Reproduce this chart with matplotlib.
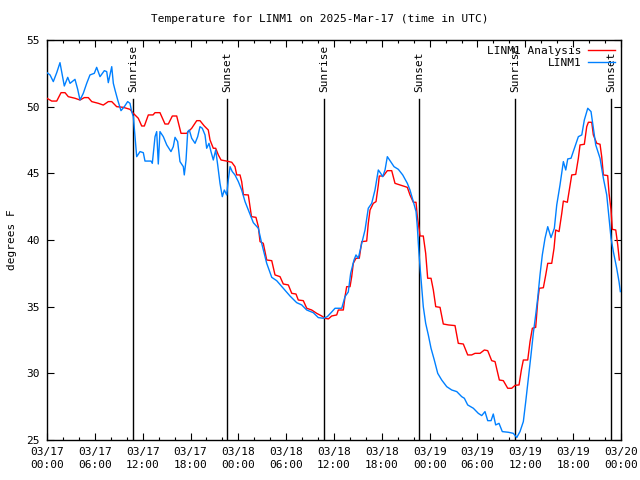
import matplotlib
matplotlib.use("Agg")
import matplotlib.pyplot as plt
from matplotlib.ticker import MultipleLocator

# ---------------- data ----------------
title = "Temperature for LINM1 on 2025-Mar-17 (time in UTC)"

# hours since 2025-03-17 00:00 UTC
analysis_hours = [0.00, 0.59, 1.22, 1.76, 2.26, 2.67, 3.51, 4.14, 4.68, 5.18, 5.61, 6.44, 7.06, 7.69,
                  8.12, 8.74, 9.57, 10.41, 10.83, 11.45, 11.88, 12.21, 12.71, 13.30, 13.55, 14.17,
                  14.80, 15.22, 15.72, 16.27, 16.81, 17.52, 18.15, 18.78, 19.19, 19.73, 20.23, 20.45,
                  20.86, 21.16, 21.49, 21.83, 22.54, 23.17, 23.58, 23.80, 24.21, 24.42, 24.64, 25.25,
                  25.65, 26.21, 26.51, 26.72, 27.13, 27.56, 28.19, 28.60, 29.23, 29.64, 30.27, 30.70,
                  31.23, 31.52, 32.15, 32.58, 33.20, 33.83, 34.46, 34.87, 35.29, 35.71, 36.34, 36.54,
                  37.17, 37.38, 37.59, 38.01, 38.22, 38.42, 38.76, 39.17, 39.48, 40.10, 40.30, 40.52,
                  40.93, 41.27, 41.56, 41.68, 42.19, 42.69, 43.24, 43.65, 44.28, 45.20, 45.53, 45.95,
                  46.29, 46.45, 46.70, 46.79, 47.20, 47.50, 47.75, 48.17, 48.46, 48.76, 49.30, 49.71,
                  50.34, 51.18, 51.59, 52.22, 52.77, 53.27, 53.69, 54.32, 54.86, 55.28, 55.78, 56.20,
                  56.74, 57.24, 57.79, 58.29, 58.71, 59.21, 59.50, 59.75, 60.30, 60.59, 60.88, 61.30,
                  61.55, 61.75, 62.26, 62.56, 62.81, 63.31, 63.60, 63.81, 64.23, 64.57, 64.77, 65.27,
                  65.61, 65.82, 66.32, 66.65, 66.86, 67.40, 67.70, 67.91, 68.33, 68.53, 68.96, 69.37,
                  69.58, 69.79, 70.33, 70.50, 70.75, 70.91, 71.34, 71.59, 71.79]
analysis_temp = [50.63, 50.42, 50.42, 51.05, 51.05, 50.75, 50.63, 50.50, 50.68, 50.68, 50.38, 50.25, 50.12, 50.38,
                 50.38, 50.00, 49.95, 49.80, 49.50, 49.13, 48.55, 48.55, 49.38, 49.38, 49.55, 49.55,
                 48.70, 48.70, 49.30, 49.30, 48.00, 48.00, 48.38, 48.95, 48.95, 48.55, 48.25, 47.50,
                 46.88, 46.88, 46.38, 46.00, 45.92, 45.83, 45.50, 44.88, 44.88, 44.38, 43.40, 43.38,
                 41.75, 41.70, 41.00, 39.88, 39.75, 38.50, 38.45, 37.38, 37.25, 36.70, 36.63, 36.00,
                 35.95, 35.50, 35.45, 34.88, 34.75, 34.50, 34.30, 34.13, 34.08, 34.30, 34.38, 34.75,
                 34.75, 35.75, 36.50, 36.50, 37.25, 38.25, 38.63, 38.63, 39.88, 39.92, 41.25, 42.25,
                 42.75, 42.88, 44.13, 44.80, 44.80, 45.20, 45.20, 44.25, 44.13, 43.95, 43.38, 42.83,
                 42.83, 41.75, 40.75, 40.30, 40.30, 39.00, 37.13, 37.13, 36.25, 35.00, 34.95, 33.70,
                 33.63, 33.58, 32.25, 32.20, 31.38, 31.38, 31.50, 31.50, 31.75, 31.70, 30.95, 30.88,
                 29.50, 29.45, 28.88, 28.88, 29.10, 29.13, 30.25, 31.00, 31.00, 32.38, 33.38, 33.45,
                 35.38, 36.38, 36.42, 37.38, 38.25, 38.25, 39.38, 40.75, 40.63, 42.00, 42.92, 42.83,
                 44.13, 44.88, 44.92, 46.13, 47.13, 47.18, 48.50, 48.83, 48.83, 47.88, 47.25, 47.18,
                 46.25, 44.88, 44.83, 43.50, 42.25, 40.80, 40.75, 39.63, 38.50]

obs_hours = [0.00, 0.38, 0.79, 1.22, 1.63, 1.92, 2.17, 2.60, 2.89, 3.51, 3.85, 4.14, 4.55, 4.98, 5.39,
             5.93, 6.23, 6.65, 7.19, 7.49, 7.69, 8.12, 8.32, 8.53, 8.87, 9.28, 9.70, 10.12, 10.41,
             10.62, 10.83, 11.04, 11.25, 11.67, 12.08, 12.29, 13.05, 13.21, 13.55, 13.76, 13.96,
             14.17, 14.59, 15.02, 15.55, 15.84, 16.06, 16.39, 16.68, 17.10, 17.22, 17.44, 17.65,
             17.85, 18.15, 18.57, 18.90, 19.19, 19.48, 19.82, 20.03, 20.32, 20.57, 20.86, 21.16,
             21.41, 21.70, 21.99, 22.24, 22.54, 22.74, 22.96, 23.24, 23.58, 24.00, 24.42, 24.84,
             25.34, 25.88, 26.51, 26.93, 27.56, 28.19, 28.81, 29.64, 30.48, 31.32, 31.95, 32.58,
             33.40, 34.03, 34.66, 35.16, 35.71, 36.13, 36.97, 37.38, 37.79, 38.09, 38.51, 38.76,
             39.05, 39.48, 39.89, 40.30, 40.73, 41.14, 41.56, 41.86, 42.11, 42.40, 42.69, 43.03,
             43.53, 44.07, 44.62, 45.20, 45.53, 45.95, 46.29, 46.45, 46.63, 46.79, 47.00, 47.20,
             47.50, 47.83, 48.17, 48.58, 49.01, 49.51, 50.14, 50.77, 51.40, 52.02, 52.35, 52.77,
             53.48, 54.10, 54.53, 54.94, 55.28, 55.70, 55.98, 56.28, 56.70, 57.11, 57.87, 58.49,
             58.92, 59.33, 59.75, 60.05, 60.38, 60.71, 61.00, 61.30, 61.55, 61.84, 62.13, 62.47,
             62.81, 63.22, 63.64, 63.94, 64.35, 64.77, 65.07, 65.32, 65.73, 66.15, 66.65, 67.08,
             67.40, 67.83, 68.24, 68.53, 68.83, 69.37, 69.79, 70.21, 70.50, 70.75, 71.04, 71.46,
             71.75, 71.92]
obs_temp = [52.55, 52.38, 51.88, 52.55, 53.30, 52.38, 51.55, 52.20, 51.75, 52.05, 51.30, 50.50, 51.00, 51.75, 52.38,
            52.50, 52.95, 52.25, 52.70, 52.63, 51.80, 53.00, 51.75, 51.25, 50.50, 49.70, 50.00, 50.38, 50.25,
            49.63, 49.25, 47.75, 46.25, 46.63, 46.55, 45.92, 45.92, 45.75, 47.75, 48.13, 45.70,
            48.13, 47.75, 47.13, 46.63, 47.00, 47.70, 47.38, 45.88, 45.50, 44.88, 46.00, 48.13,
            48.25, 47.63, 47.25, 47.75, 48.50, 48.38, 47.88, 46.88, 47.25, 46.63, 46.00, 46.75,
            45.63, 44.25, 43.25, 43.75, 43.38, 44.50, 45.50, 45.13, 44.88, 44.38, 43.75, 42.88,
            42.13, 41.30, 40.88, 39.75, 38.25, 37.20, 36.95, 36.38, 35.80, 35.30, 35.13, 34.75,
            34.55, 34.18, 34.13, 34.25, 34.60, 34.88, 34.88, 35.75, 36.10, 37.50, 38.50, 38.88,
            38.63, 39.75, 40.75, 42.38, 42.75, 43.75, 45.25, 45.00, 44.75, 45.25, 46.25, 45.95,
            45.50, 45.30, 44.88, 44.25, 43.75, 42.88, 42.13, 41.00, 39.25, 38.00, 36.50, 35.00,
            33.75, 32.88, 31.88, 31.00, 30.00, 29.50, 29.00, 28.75, 28.63, 28.25, 28.13, 27.63,
            27.38, 27.00, 26.83, 27.13, 26.45, 26.45, 26.95, 26.13, 26.25, 25.63, 25.58, 25.50,
            25.18, 25.63, 26.38, 27.88, 29.63, 31.38, 33.00, 34.38, 35.63, 37.38, 38.88, 40.13,
            41.00, 40.18, 40.88, 42.63, 44.13, 45.88, 45.25, 46.08, 46.13, 46.88, 47.75, 47.88,
            49.00, 49.88, 49.63, 48.38, 47.13, 46.13, 44.63, 43.38, 41.63, 40.13, 39.13, 37.88,
            36.88, 36.13]

sunrise_hours = [10.79, 34.75, 58.70]
sunset_hours = [22.58, 46.66, 70.75]

tick_hours = [0, 6, 12, 18, 24, 30, 36, 42, 48, 54, 60, 66, 72]
tick_dates = ["03/17", "03/17", "03/17", "03/17", "03/18", "03/18", "03/18", "03/18",
              "03/19", "03/19", "03/19", "03/19", "03/20"]
tick_times = ["00:00", "06:00", "12:00", "18:00", "00:00", "06:00", "12:00", "18:00",
              "00:00", "06:00", "12:00", "18:00", "00:00"]

# ---------------- plot ----------------
FONT = "DejaVu Sans Mono"
FS = 8
plt.rcParams["font.family"] = [FONT, "DejaVu Sans"]
plt.rcParams["font.size"] = FS

fig = plt.figure(figsize=(6.4, 4.8), dpi=100)
ax = fig.add_axes([47 / 640, 1 - 440 / 480, (621 - 47) / 640, 400 / 480])

for h in sunrise_hours:
    ax.plot([h, h], [25, 50.55], color="black", lw=1.0, zorder=1)
    ax.text(h, 51.1, "Sunrise", rotation=90, ha="center", va="bottom", fontsize=FS, zorder=1)
for h in sunset_hours:
    ax.plot([h, h], [25, 50.55], color="black", lw=1.0, zorder=1)
    ax.text(h, 51.1, "Sunset", rotation=90, ha="center", va="bottom", fontsize=FS, zorder=1)

ax.plot(analysis_hours, analysis_temp, color="#ff0000", lw=1.0, label="LINM1 Analysis", zorder=3)
ax.plot(obs_hours, obs_temp, color="#0080ff", lw=1.0, label="LINM1", zorder=4)

ax.set_xlim(0, 72)
ax.set_ylim(25, 55)
ax.set_xticks(tick_hours)
ax.set_xticklabels([d + "\n" + t for d, t in zip(tick_dates, tick_times)], fontsize=FS,
                   linespacing=1.35)
ax.xaxis.set_minor_locator(MultipleLocator(2))
ax.yaxis.set_major_locator(MultipleLocator(5))
ax.tick_params(axis="both", which="both", direction="in", top=True, right=True, width=0.8,
               labelsize=FS)
ax.tick_params(axis="both", which="major", length=5)
ax.tick_params(axis="both", which="minor", length=2.5)
ax.tick_params(axis="x", which="major", pad=5)
ax.tick_params(axis="y", which="major", pad=5)
for s in ax.spines.values():
    s.set_linewidth(1.0)

ax.set_ylabel("degrees F", fontsize=FS, labelpad=7)
fig.text(0.5, 1 - 19 / 480, title, ha="center", va="center", fontsize=FS)

ax.legend(loc="upper right", frameon=False, markerfirst=False, handlelength=2.4,
          handletextpad=0.6, labelspacing=0.15, borderaxespad=0.45, borderpad=0.1,
          fontsize=FS)

fig.savefig("out.png", dpi=100)
